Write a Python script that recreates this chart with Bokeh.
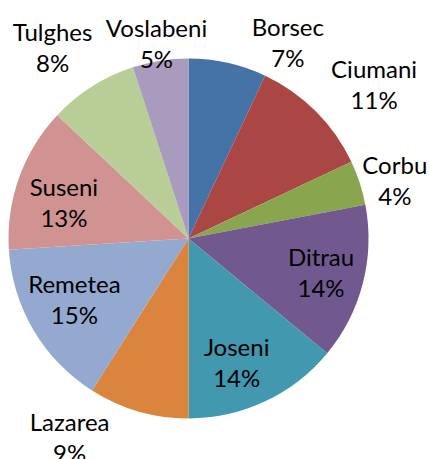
import math
from bokeh.plotting import figure
from bokeh.models import ColumnDataSource, Range1d
from bokeh.core.properties import value
from bokeh.embed import file_html
from bokeh.resources import INLINE

# ---- data ----
categories = ["Borsec", "Ciumani", "Corbu", "Ditrau", "Joseni",
              "Lazarea", "Remetea", "Suseni", "Tulghes", "Voslabeni"]
shares = [7, 11, 4, 14, 14, 9, 15, 13, 8, 5]

# ---- style ----
colors = ["#4572A7", "#AA4643", "#89A54E", "#71588F", "#4198AF",
          "#DB843D", "#93A9CF", "#D19392", "#B9CD96", "#A99BBD"]
# label layout: (radius factor, angular nudge in degrees)
label_layout = [(1.22, 14.3), (1.34, 5.3), (1.19, 2.4), (0.76, 0.0), (0.74, 4.0),
                (1.29, 14.6), (0.72, 2.3), (0.72, -3.8), (1.30, -3.1), (1.10, -0.3)]

W, H = 430, 459
cx, cy, R = 188, 221, 180
FONT = "Lato"

total = float(sum(shares))
starts, ends, lx, ly, pct = [], [], [], [], []
cum = 0.0
for v, (f, nudge) in zip(shares, label_layout):
    a0 = cum / total
    cum += v
    a1 = cum / total
    starts.append(math.pi / 2 - 2 * math.pi * a0)
    ends.append(math.pi / 2 - 2 * math.pi * a1)
    th = 2 * math.pi * (a0 + a1) / 2 + math.radians(nudge)
    lx.append(cx + f * R * math.sin(th))
    ly.append(cy + f * R * math.cos(th))
    pct.append(f"{round(100 * v / total)}%")

src = ColumnDataSource(dict(cat=categories, start=starts, end=ends, color=colors,
                            lx=lx, ly_name=[y + 16 for y in ly], ly_pct=[y - 15 for y in ly],
                            pct=pct))

p = figure(width=W, height=H, output_backend="svg", toolbar_location=None,
           x_range=Range1d(0, W), y_range=Range1d(0, H),
           min_border=0, outline_line_color=None)
p.axis.visible = False
p.grid.visible = False
p.background_fill_color = "white"
p.border_fill_color = "white"

p.wedge(x=cx, y=cy, radius=R, start_angle="start", end_angle="end",
        direction="clock", fill_color="color", line_color=None, source=src)

p.text(x="lx", y="ly_name", text="cat", source=src, text_align="center",
       text_baseline="middle", text_font=value(FONT), text_font_size="24px",
       text_color="black")
p.text(x="lx", y="ly_pct", text="pct", source=src, text_align="center",
       text_baseline="middle", text_font=value(FONT), text_font_size="24px",
       text_color="black")

open("out.html", "w").write(file_html(p, INLINE))
